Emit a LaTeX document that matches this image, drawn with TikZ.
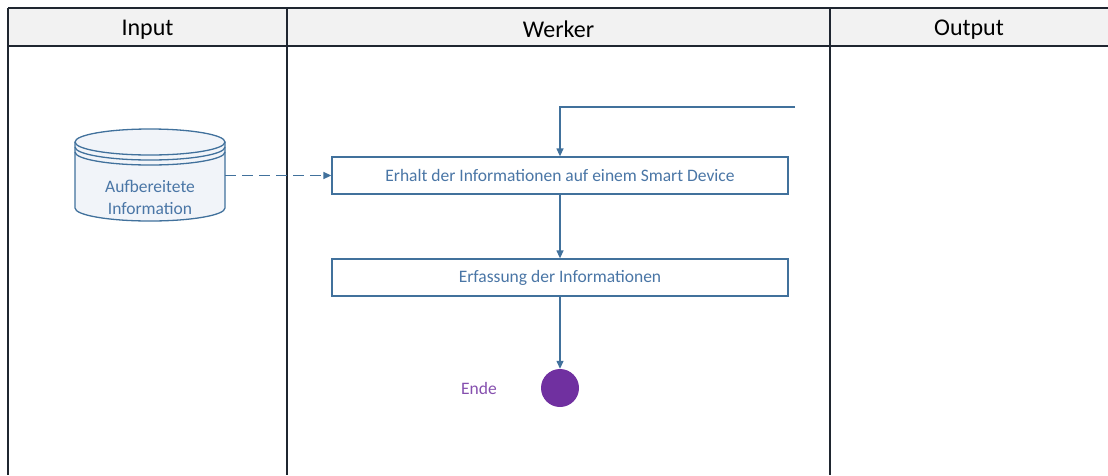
\documentclass[tikz,border=0pt]{standalone}
\usepackage{fontspec}
\setmainfont{Carlito}
\usetikzlibrary{arrows.meta}
\definecolor{laneline}{HTML}{1F2630}
\definecolor{headfill}{HTML}{F2F2F2}
\definecolor{flowblue}{HTML}{41719C}
\definecolor{flowtext}{HTML}{4A76A6}
\definecolor{dbfill}{HTML}{F1F4F9}
\definecolor{endpurple}{HTML}{7030A0}
\tikzset{
  lane/.style={draw=laneline, line width=1.8pt},
  headtext/.style={font=\fontsize{24}{28}\selectfont, text=black},
  stepbox/.style={draw=flowblue, line width=1.3pt, fill=white, minimum width=456pt, minimum height=37pt, inner sep=0pt, font=\fontsize{17.5}{20}\selectfont, text=flowtext},
  flow/.style={draw=flowblue, line width=1.3pt, -{Triangle[length=8pt,width=7pt]}},
  dashflow/.style={flow, line width=1.5pt, dash pattern=on 11pt off 6pt},
}
\begin{document}
\begin{tikzpicture}[x=1pt,y=-1pt]
\useasboundingbox (0,0) rectangle (1108,475);
% swimlane header
\fill[headfill] (8,8) rectangle (1108,46);
\draw[lane] (8,8) -- (1108,8);
\draw[lane] (8,46) -- (1108,46);
\draw[lane] (8,8) -- (8,475);
\draw[lane] (287,8) -- (287,475);
\draw[lane] (830,8) -- (830,475);
\node[headtext] (hin) at (147.5,29.5) {Input};
\node[headtext] (hwk) at (558.5,29.5) {Werker};
\node[headtext] (hout) at (969,29.5) {Output};

% data store (y axis points down, so the lower arcs run from 180 to 0)
\fill[dbfill] (75,142) -- (75,208) arc[start angle=180,end angle=0,x radius=75,y radius=13] -- (225,142) arc[start angle=0,end angle=-180,x radius=75,y radius=13] -- cycle;
\draw[flowblue, line width=1.3pt] (75,142) -- (75,208) arc[start angle=180,end angle=0,x radius=75,y radius=13] -- (225,142);
\draw[flowblue, line width=1.3pt] (150,142) ellipse[x radius=75,y radius=13];
\draw[flowblue, line width=1.3pt] (75,147) arc[start angle=180,end angle=0,x radius=75,y radius=13];
\draw[flowblue, line width=1.3pt] (75,152) arc[start angle=180,end angle=0,x radius=75,y radius=13];
\node[inner sep=0pt, minimum width=150pt, minimum height=50pt, font=\fontsize{17.5}{22}\selectfont, text=flowtext, align=center] (db) at (150,197) {Aufbereitete\\Information};

% activities
\node[stepbox] (s1) at (560,175.5) {Erhalt der Informationen auf einem Smart Device};
\node[stepbox] (s2) at (560,277.5) {Erfassung der Informationen};
\node[circle, fill=endpurple, minimum size=38pt, inner sep=0pt] (end) at (560,388) {};
\node[font=\fontsize{17.5}{20}\selectfont, text=endpurple!85!white] (endlbl) at (479,388) {Ende};
\coordinate (loopin) at (795,107);

% connectors
\draw[dashflow] (db.east |- s1.west) -- (s1.west);
\draw[flow] (s1) -- (s2);
\draw[flow] (s2) -- (end);
\draw[flow] (loopin) -| (s1.north);
\end{tikzpicture}
\end{document}
